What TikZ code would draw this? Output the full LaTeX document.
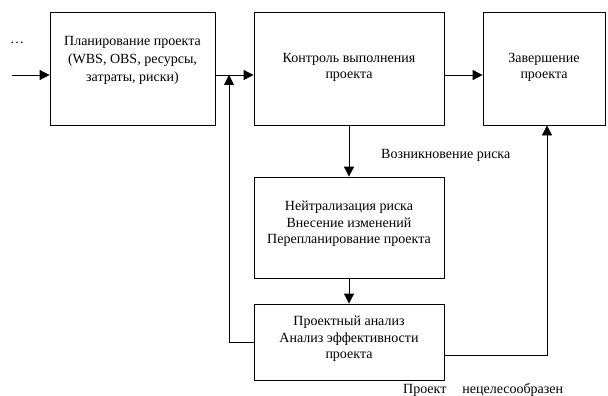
\documentclass[tikz,border=0pt]{standalone}
\usepackage{fontspec}
\setmainfont{Liberation Serif}
\usetikzlibrary{arrows.meta}
\begin{document}
\begin{tikzpicture}[x=1pt,y=-1pt,
  blk/.style={draw,line width=0.8pt,inner sep=0pt},
  lbl/.style={align=center,font=\fontsize{14}{16.5}\selectfont,inner sep=0pt},
  lblw/.style={align=center,font=\fontsize{14}{18}\selectfont,inner sep=0pt},
  txt/.style={font=\fontsize{14}{16.5}\selectfont,inner sep=0pt,anchor=west},
  arr/.style={line width=0.8pt,-{Triangle[length=10pt,width=10pt]}}]
\useasboundingbox (0,0) rectangle (608,396);
% boxes
\node[blk,minimum width=165pt,minimum height=113pt] (b1) at (132.5,68.5) {};
\node[blk,minimum width=190pt,minimum height=113pt] (b2) at (349,68.5) {};
\node[blk,minimum width=122pt,minimum height=113pt] (b3) at (544,68.5) {};
\node[blk,minimum width=190pt,minimum height=101pt] (b4) at (349,227.5) {};
\node[blk,minimum width=190pt,minimum height=76pt] (b5) at (349,342) {};
% labels
\node[lblw] (t1) at (132.5,60) {Планирование проекта\\(WBS, OBS, ресурсы,\\затраты, риски)};
\node[lbl] (t2) at (349,67.5) {Контроль выполнения\\проекта};
\node[lbl] (t3) at (544,67.5) {Завершение\\проекта};
\node[lbl] (t4) at (349,224) {Нейтрализация риска\\Внесение изменений\\Перепланирование проекта};
\node[lbl] (t5) at (349,339) {Проектный анализ\\Анализ эффективности\\проекта};
\node[txt] (dots) at (10,43) {\ldots};
\node[txt] (r1) at (381,155) {Возникновение риска};
\node[txt] (r2) at (403,390) {Проект\hspace{16pt}нецелесообразен};
% connectors
\coordinate (in) at (12,75);
\coordinate (j) at (229,75);
\coordinate (c5r) at (547,355);
\draw[arr] (in) -- (b1.west |- in);
\draw[arr] (b1.east |- in) -- (b2.west |- in);
\draw[arr] (b2.east |- in) -- (b3.west |- in);
\draw[arr] (b2.south) -- (b4.north);
\draw[arr] (b4.south) -- (b5.north);
\draw[arr] (b5.west) -- (b5.west -| j) -- (j);
\draw[arr] (b5.east |- c5r) -- (c5r) -- (c5r |- b3.south);
\end{tikzpicture}
\end{document}
